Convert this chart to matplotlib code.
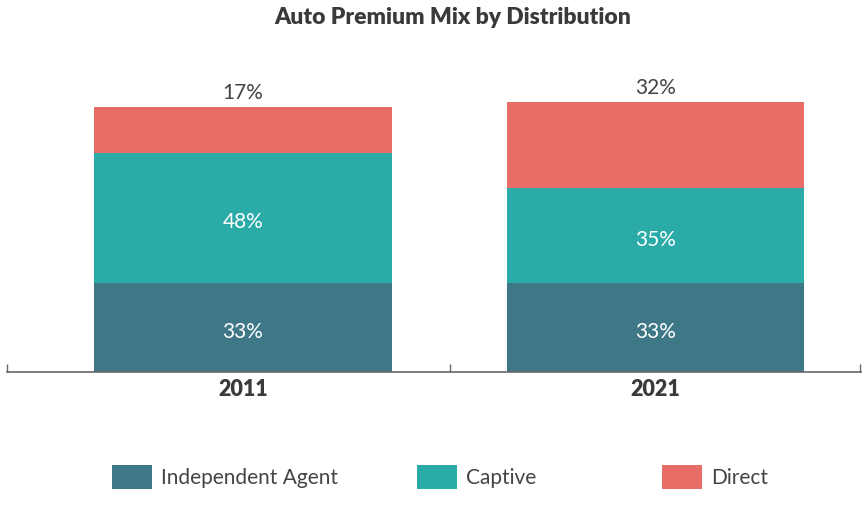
import matplotlib.pyplot as plt
from matplotlib.patches import Patch

# data
years = ["2011", "2021"]
independent = [33, 33]
captive = [48, 35]
direct = [17, 32]
series_names = ["Independent Agent", "Captive", "Direct"]
colors = ["#3e7887", "#2aaba8", "#e96d67"]

plt.rcParams['font.family'] = ['Lato', 'DejaVu Sans']

fig = plt.figure(figsize=(8.64, 5.05), dpi=100)
ax = fig.add_axes([7 / 864, 1 - 372 / 505, 854 / 864, 270 / 505])

x = range(len(years))
width = 0.72
bottom = [0, 0]
for vals, color in zip([independent, captive, direct], colors):
    bars = ax.bar(x, vals, width, bottom=bottom, color=color, zorder=2)
    bottom = [b + v for b, v in zip(bottom, vals)]
    if color == colors[2]:
        ax.bar_label(bars, labels=[f"{v}%" for v in vals], padding=3,
                     color="#444444", fontsize=15)
    else:
        # labels sit a little below the middle of each segment
        for bar, v in zip(bars, vals):
            ax.annotate(f"{v}%", (bar.get_x() + bar.get_width() / 2,
                                  bar.get_y() + bar.get_height() / 2),
                        xytext=(0, -3), textcoords="offset points",
                        ha="center", va="center", color="white", fontsize=15)

ax.set_xlim(-0.572, 1.498)
ax.set_ylim(0, 100)
for s in ["top", "right", "left"]:
    ax.spines[s].set_visible(False)
ax.spines["bottom"].set_color("#666666")
ax.spines["bottom"].set_linewidth(1.2)
ax.set_yticks([])
ax.set_xticks(list(x))
ax.set_xticklabels(years, fontsize=15.5, fontweight="heavy", color="#3a3a3a")
ax.tick_params(axis="x", which="major", length=0, pad=5)
ax.set_xticks([-0.572, 0.502, 1.496], minor=True)
ax.tick_params(axis="x", which="minor", direction="in", length=6,
               color="#666666", width=1)

fig.text(453 / 864, 1 - 18 / 505, "Auto Premium Mix by Distribution",
         ha="center", va="center", fontsize=16.5, fontweight="heavy",
         color="#3a3a3a")

# legend entries spread like the reference
legend_x = [93 / 864, 398 / 864, 643 / 864]
for name, color, lx in zip(series_names, colors, legend_x):
    fig.legend(handles=[Patch(facecolor=color, label=name)],
               loc="center left", bbox_to_anchor=(lx, 1 - 477 / 505),
               frameon=False, fontsize=15, handlelength=1.92,
               handleheight=1.44, handletextpad=0.43, labelcolor="#444444")

fig.savefig("out.png", dpi=100)
